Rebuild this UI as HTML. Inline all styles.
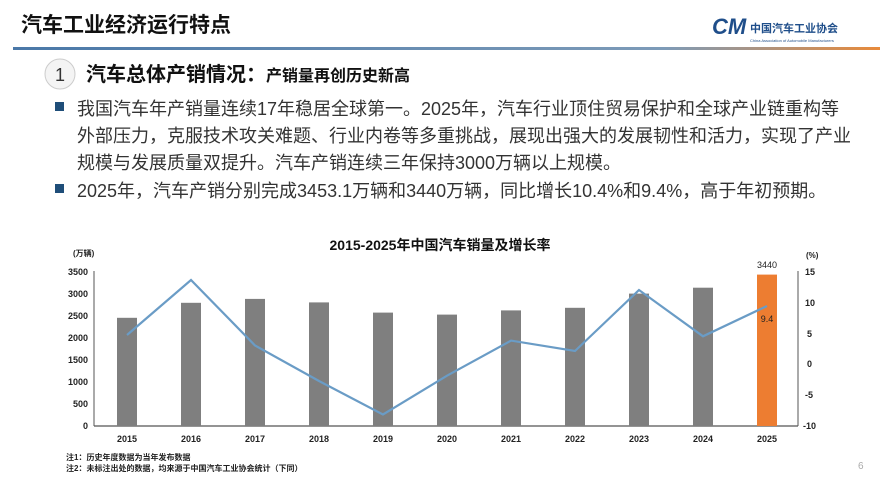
<!DOCTYPE html>
<html><head><meta charset="utf-8"><style>
body{margin:0;background:#fff;}
svg{display:block;font-family:"Liberation Sans","Noto Sans CJK SC",sans-serif;}
</style></head><body>
<svg width="880" height="489" viewBox="0 0 880 489" xmlns="http://www.w3.org/2000/svg">
<defs><linearGradient id="hl" x1="0" x2="1"><stop offset="0" stop-color="#4a78a8"/><stop offset="0.75" stop-color="#7d9bb8"/><stop offset="1" stop-color="#e88a3a"/></linearGradient></defs>
<text x="21" y="32" font-size="21" font-weight="bold" fill="#111">汽车工业经济运行特点</text>
<text x="712" y="34" font-size="22" font-weight="bold" font-style="italic" fill="#1f4e8a">CM</text>
<text x="750" y="32" font-size="11" font-weight="bold" fill="#1f4e8a">中国汽车工业协会</text>
<text x="750" y="42" font-size="4" fill="#1f4e8a">China Association of Automobile Manufacturers</text>
<rect x="13" y="47" width="867" height="3" fill="url(#hl)"/>
<circle cx="60" cy="74" r="15" fill="#f4f4f4" stroke="#ccc"/>
<text x="60" y="81" font-size="18" text-anchor="middle" fill="#333">1</text>
<text x="86" y="81" font-size="20" font-weight="bold" fill="#111">汽车总体产销情况：<tspan font-size="16">产销量再创历史新高</tspan></text>
<g font-size="18" fill="#333">
<rect x="55" y="102" width="9" height="9" fill="#1f4e79"/>
<text x="77" y="115">我国汽车年产销量连续17年稳居全球第一。2025年，汽车行业顶住贸易保护和全球产业链重构等</text>
<text x="77" y="142">外部压力，克服技术攻关难题、行业内卷等多重挑战，展现出强大的发展韧性和活力，实现了产业</text>
<text x="77" y="169">规模与发展质量双提升。汽车产销连续三年保持3000万辆以上规模。</text>
<rect x="55" y="184" width="9" height="9" fill="#1f4e79"/>
<text x="77" y="197">2025年，汽车产销分别完成3453.1万辆和3440万辆，同比增长10.4%和9.4%，高于年初预期。</text>
</g>
<text x="440" y="250" font-size="14" font-weight="bold" text-anchor="middle" fill="#111">2015-2025年中国汽车销量及增长率</text>
<text x="73" y="256" font-size="8" font-weight="bold" fill="#222">(万辆)</text>
<text x="806" y="258" font-size="8" font-weight="bold" fill="#222">(%)</text>
<g font-size="9" font-weight="bold" fill="#222" text-anchor="end">
<text x="88" y="275">3500</text><text x="88" y="297">3000</text><text x="88" y="319">2500</text><text x="88" y="341">2000</text><text x="88" y="363">1500</text><text x="88" y="385">1000</text><text x="88" y="407">500</text><text x="88" y="429">0</text>
</g>
<g font-size="9" font-weight="bold" fill="#222">
<text x="805" y="275">15</text><text x="805" y="306">10</text><text x="807" y="337">5</text><text x="807" y="367">0</text><text x="805" y="398">-5</text><text x="803" y="429">-10</text>
</g>
<line x1="94" y1="271" x2="94" y2="426" stroke="#555"/>
<line x1="798" y1="271" x2="798" y2="426" stroke="#555"/>
<line x1="94" y1="426" x2="798" y2="426" stroke="#555" stroke-width="1.2"/>
<g fill="#7f7f7f">
<rect x="117" y="317.8" width="20" height="108.2"/>
<rect x="181" y="302.8" width="20" height="123.2"/>
<rect x="245" y="298.9" width="20" height="127.1"/>
<rect x="309" y="302.4" width="20" height="123.6"/>
<rect x="373" y="312.6" width="20" height="113.4"/>
<rect x="437" y="314.6" width="20" height="111.4"/>
<rect x="501" y="310.4" width="20" height="115.6"/>
<rect x="565" y="307.8" width="20" height="118.2"/>
<rect x="629" y="293.6" width="20" height="132.4"/>
<rect x="693" y="287.7" width="20" height="138.3"/>
</g>
<rect x="757" y="274.6" width="20" height="151.4" fill="#ed7d31"/>
<text x="767" y="268" font-size="9" text-anchor="middle" fill="#222">3440</text>
<polyline fill="none" stroke="#6a9cc6" stroke-width="2.2" points="127,335 191,280 255,345.5 319,381 383,414.5 447,375.7 511,340.6 575,351 639,290 703,336.3 767,306"/>
<text x="767" y="322" font-size="9" text-anchor="middle" fill="#222">9.4</text>
<g font-size="9" font-weight="bold" fill="#222" text-anchor="middle">
<text x="127" y="442">2015</text><text x="191" y="442">2016</text><text x="255" y="442">2017</text><text x="319" y="442">2018</text><text x="383" y="442">2019</text><text x="447" y="442">2020</text><text x="511" y="442">2021</text><text x="575" y="442">2022</text><text x="639" y="442">2023</text><text x="703" y="442">2024</text><text x="767" y="442">2025</text>
</g>
<text x="66" y="460" font-size="8" font-weight="bold" fill="#222">注1：历史年度数据为当年发布数据</text>
<text x="66" y="471" font-size="8" font-weight="bold" fill="#222">注2：未标注出处的数据，均来源于中国汽车工业协会统计（下同）</text>
<text x="858" y="469" font-size="10" fill="#aaa">6</text>
</svg>
</body></html>
